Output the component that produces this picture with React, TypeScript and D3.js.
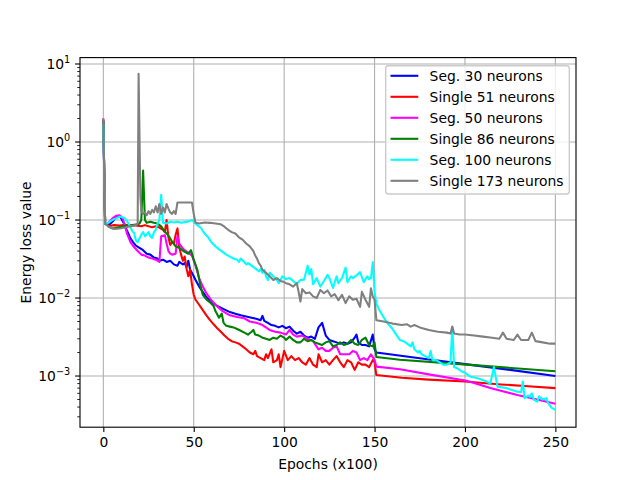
import React, { useEffect, useRef } from 'react';
import * as d3 from 'd3';

type Pt = [number, number];

// [epoch (x100), energy loss]
const seg30: Pt[] = [
    [0, 1.8], [1, 0.09], [3, 0.086], [5, 0.095], [7, 0.108], [9, 0.113], [10, 0.104], [12, 0.085], [13, 0.074],
    [15, 0.058], [17, 0.05], [18, 0.047], [20, 0.044], [22, 0.041], [24, 0.037], [26, 0.036], [28, 0.033],
    [30, 0.032], [31, 0.03], [33, 0.031], [35, 0.029], [37, 0.03], [39, 0.027], [41, 0.026], [42, 0.029],
    [44, 0.027], [45, 0.028], [46, 0.025], [47, 0.03], [48, 0.023], [49, 0.021], [50, 0.019], [51, 0.017],
    [53, 0.014], [55, 0.012], [57, 0.0102], [60, 0.0088], [63, 0.0079], [66, 0.0073], [70, 0.0066], [73, 0.0063],
    [76, 0.006], [79, 0.0058], [82, 0.0056], [85, 0.0054], [87, 0.0052], [88, 0.0059], [89, 0.0051], [91, 0.0048],
    [93, 0.0045], [95, 0.0044], [97, 0.0042], [99, 0.0044], [101, 0.0041], [103, 0.0043], [105, 0.0038],
    [107, 0.0035], [109, 0.0037], [111, 0.0033], [113, 0.0031], [115, 0.0032], [117, 0.003], [119, 0.0042],
    [121, 0.0048], [123, 0.0033], [125, 0.0029], [127, 0.0028], [129, 0.0027], [131, 0.0026], [133, 0.0027],
    [135, 0.0026], [137, 0.0027], [139, 0.0031], [140, 0.0034], [141, 0.0027], [143, 0.0025], [145, 0.0025],
    [147, 0.0024], [149, 0.0034], [150, 0.0022], [151, 0.002], [175, 0.00169], [200, 0.00142], [225, 0.0012],
    [250, 0.001],
];

const single51: Pt[] = [
    [0, 1.9], [1, 0.09], [3, 0.084], [6, 0.086], [9, 0.085], [12, 0.087], [15, 0.085], [18, 0.085], [21, 0.083],
    [23, 0.086], [25, 0.083], [27, 0.081], [29, 0.083], [31, 0.08], [33, 0.075], [34, 0.07], [35, 0.1], [36, 0.06],
    [37, 0.048], [38, 0.052], [39, 0.05], [40, 0.065], [41, 0.078], [42, 0.045], [43, 0.036], [44, 0.03],
    [45, 0.034], [46, 0.024], [47, 0.019], [48, 0.023], [49, 0.015], [50, 0.011], [51, 0.0095], [53, 0.0082],
    [55, 0.007], [57, 0.006], [59, 0.0052], [61, 0.0046], [63, 0.0041], [65, 0.0037], [67, 0.0033], [69, 0.003],
    [71, 0.0028], [73, 0.0027], [75, 0.0026], [77, 0.0024], [79, 0.0022], [81, 0.002], [83, 0.0019], [84, 0.0021],
    [85, 0.0018], [87, 0.0017], [89, 0.0016], [90, 0.0019], [91, 0.0017], [93, 0.0022], [94, 0.0015], [96, 0.0016],
    [97, 0.0019], [98, 0.0013], [100, 0.0021], [102, 0.0016], [104, 0.0018], [106, 0.0016], [108, 0.0017],
    [110, 0.0015], [112, 0.0014], [114, 0.0017], [116, 0.0014], [118, 0.0013], [119, 0.0019], [121, 0.0015],
    [123, 0.0016], [125, 0.0014], [127, 0.0016], [129, 0.0018], [131, 0.0015], [133, 0.0013], [135, 0.0016],
    [137, 0.0015], [139, 0.0012], [141, 0.0015], [143, 0.0014], [145, 0.0014], [147, 0.0013], [149, 0.0016],
    [150, 0.0015], [151, 0.00103], [165, 0.00095], [180, 0.0009], [200, 0.00085], [220, 0.00078], [235, 0.00074],
    [250, 0.0007],
];

const seg50: Pt[] = [
    [0, 2.0], [1, 0.09], [3, 0.092], [5, 0.105], [7, 0.113], [9, 0.115], [10, 0.11], [11, 0.1], [13, 0.068],
    [15, 0.052], [17, 0.045], [19, 0.04], [21, 0.036], [23, 0.035], [25, 0.033], [27, 0.032], [29, 0.031],
    [31, 0.029], [32, 0.062], [34, 0.064], [35, 0.05], [36, 0.04], [37, 0.037], [38, 0.036], [40, 0.037],
    [41, 0.062], [42, 0.05], [44, 0.043], [45, 0.041], [47, 0.038], [49, 0.035], [51, 0.026], [53, 0.018],
    [55, 0.014], [57, 0.0115], [60, 0.0092], [63, 0.0078], [66, 0.0068], [70, 0.006], [74, 0.0057], [78, 0.0055],
    [81, 0.005], [85, 0.0048], [88, 0.0045], [92, 0.0039], [95, 0.0037], [98, 0.0036], [101, 0.0034],
    [103, 0.0039], [105, 0.0034], [107, 0.0032], [110, 0.0033], [113, 0.003], [116, 0.0028], [119, 0.0022],
    [121, 0.0023], [123, 0.0021], [125, 0.0021], [127, 0.0023], [129, 0.0024], [131, 0.0019], [134, 0.0019],
    [136, 0.0019], [138, 0.0021], [140, 0.002], [142, 0.0016], [144, 0.0017], [146, 0.0016], [148, 0.0019],
    [150, 0.0016], [151, 0.00132], [164, 0.00122], [180, 0.00105], [201, 0.00087], [214, 0.0007], [229, 0.00057],
    [250, 0.00044],
];

const single86: Pt[] = [
    [0, 1.9], [1, 0.09], [3, 0.082], [5, 0.078], [8, 0.08], [11, 0.083], [14, 0.085], [17, 0.087], [19, 0.088],
    [20, 0.09], [21, 0.1], [22, 0.43], [23, 0.1], [24, 0.092], [26, 0.095], [28, 0.092], [30, 0.09], [32, 0.083],
    [34, 0.071], [36, 0.063], [38, 0.053], [40, 0.046], [42, 0.044], [45, 0.039], [47, 0.037], [48.5, 0.041],
    [50, 0.031], [52, 0.023], [53.5, 0.015], [55, 0.011], [57, 0.0096], [59, 0.0088], [61, 0.0079], [62, 0.0068],
    [64, 0.0056], [65.5, 0.0063], [66.5, 0.0048], [68, 0.0044], [70, 0.0043], [72, 0.0042], [74, 0.004],
    [76, 0.0038], [78, 0.0036], [80, 0.0034], [82, 0.0037], [83, 0.0039], [84, 0.0034], [86, 0.0033], [88, 0.0031],
    [90, 0.003], [92, 0.0029], [94, 0.0031], [96, 0.003], [98, 0.0033], [100, 0.0031], [101, 0.0029],
    [103, 0.0032], [105, 0.0029], [107, 0.0027], [109, 0.0027], [111, 0.003], [113, 0.0028], [115, 0.0029],
    [117, 0.0027], [119, 0.0026], [121, 0.0025], [123, 0.0027], [125, 0.0028], [127, 0.0024], [129, 0.0025],
    [131, 0.0027], [133, 0.0025], [135, 0.0026], [137, 0.0029], [139, 0.0026], [141, 0.0025], [143, 0.0029],
    [145, 0.0031], [147, 0.0025], [149, 0.0024], [150, 0.0027], [151, 0.00175], [164, 0.00162], [201, 0.0014],
    [250, 0.00115],
];

const seg100: Pt[] = [
    [0, 1.7], [1, 0.09], [3, 0.093], [5, 0.1], [7, 0.105], [9, 0.11], [10, 0.11], [12, 0.105], [14, 0.09],
    [15, 0.08], [16, 0.072], [17, 0.068], [18, 0.055], [19, 0.052], [20, 0.058], [21, 0.065], [22, 0.07],
    [23, 0.062], [24, 0.065], [25, 0.07], [26, 0.062], [27, 0.059], [28, 0.07], [29, 0.075], [30, 0.09],
    [31, 0.1], [32, 0.21], [33, 0.092], [35, 0.09], [37, 0.095], [39, 0.093], [41, 0.095], [43, 0.092],
    [45, 0.094], [47, 0.096], [49, 0.1], [50, 0.095], [52, 0.086], [54, 0.079], [56, 0.067], [58, 0.06],
    [60, 0.051], [62, 0.046], [64, 0.042], [66, 0.039], [68, 0.036], [70, 0.034], [72, 0.032], [74, 0.031],
    [75, 0.029], [76, 0.032], [78, 0.029], [79, 0.027], [80, 0.028], [82, 0.026], [84, 0.024], [86, 0.022],
    [87, 0.0235], [88, 0.021], [89, 0.023], [90, 0.019], [91, 0.017], [92, 0.021], [93, 0.02], [95, 0.018],
    [96, 0.017], [97, 0.0155], [98, 0.017], [99, 0.019], [101, 0.0175], [103, 0.018], [105, 0.0165],
    [107, 0.0152], [109, 0.017], [111, 0.0172], [113, 0.026], [114, 0.02], [115, 0.0235], [116, 0.015],
    [118, 0.018], [120, 0.014], [122, 0.0165], [124, 0.0198], [125, 0.018], [127, 0.0135], [129, 0.019],
    [130, 0.0155], [132, 0.018], [134, 0.0245], [135, 0.016], [137, 0.019], [138, 0.018], [140, 0.0195],
    [142, 0.0215], [144, 0.016], [146, 0.019], [147, 0.0175], [148, 0.018], [149, 0.029], [150, 0.012],
    [151, 0.0085], [152, 0.0075], [154, 0.0062], [156, 0.0052], [158, 0.0045], [160, 0.004], [162, 0.0034],
    [164, 0.0029], [166, 0.0028], [168, 0.0026], [170, 0.0024], [171, 0.0027], [172, 0.0022], [174, 0.002],
    [175, 0.0021], [176, 0.0019], [178, 0.0018], [180, 0.0017], [181, 0.0021], [182, 0.0016], [184, 0.0016],
    [186, 0.0015], [188, 0.0014], [190, 0.0014], [192, 0.0015], [193, 0.0042], [194, 0.0013], [196, 0.00125],
    [198, 0.00115], [200, 0.0011], [203, 0.00098], [206, 0.00095], [209, 0.0009], [212, 0.00085], [214, 0.0008],
    [216, 0.0013], [218, 0.00073], [220, 0.00072], [223, 0.0007], [226, 0.00066], [229, 0.00063], [231, 0.00062],
    [232, 0.00085], [233, 0.00052], [235, 0.00056], [236, 0.00054], [237, 0.0006], [238, 0.0005], [240, 0.00047],
    [241, 0.00055], [243, 0.0005], [245, 0.00052], [246, 0.00045], [248, 0.00039], [250, 0.00037],
];

const single173: Pt[] = [
    [0, 2.0], [1, 0.09], [3, 0.082], [6, 0.077], [9, 0.078], [12, 0.08], [15, 0.083], [17, 0.085], [18, 0.086],
    [19, 0.09], [19.5, 7.5], [20.5, 0.2], [21, 0.13], [22, 0.12], [23, 0.125], [24, 0.115], [25, 0.13], [26, 0.12],
    [27, 0.135], [28, 0.125], [29, 0.15], [30, 0.125], [31, 0.16], [32, 0.12], [33, 0.145], [34, 0.125],
    [35, 0.16], [36, 0.14], [37, 0.125], [38, 0.12], [39, 0.13], [40, 0.12], [41, 0.168], [49, 0.168],
    [50, 0.12], [51, 0.092], [53, 0.09], [56, 0.093], [59, 0.092], [62, 0.09], [65, 0.088], [67, 0.082],
    [69, 0.075], [71, 0.07], [73, 0.067], [75, 0.06], [77, 0.056], [79, 0.05], [81, 0.046], [83, 0.04],
    [84, 0.035], [85, 0.032], [86, 0.028], [87, 0.026], [88, 0.023], [89, 0.022], [90, 0.021], [91, 0.02],
    [92, 0.019], [94, 0.017], [96, 0.018], [98, 0.0165], [100, 0.016], [101, 0.0155], [103, 0.015], [105, 0.014],
    [107, 0.0155], [108, 0.012], [109, 0.009], [110, 0.013], [112, 0.0115], [114, 0.0118], [116, 0.0105],
    [118, 0.01], [120, 0.0127], [122, 0.0115], [124, 0.0125], [126, 0.0105], [128, 0.0112], [130, 0.0094],
    [132, 0.011], [134, 0.0086], [136, 0.0105], [138, 0.0095], [140, 0.0098], [142, 0.0077], [143, 0.012],
    [145, 0.0095], [147, 0.0077], [148, 0.0133], [149, 0.0105], [150, 0.0095], [151, 0.0052], [155, 0.005],
    [160, 0.0047], [165, 0.0045], [168, 0.0046], [170, 0.0043], [172, 0.0045], [175, 0.0042], [180, 0.0039],
    [185, 0.0037], [190, 0.0036], [192, 0.0035], [193, 0.0043], [194, 0.0035], [197, 0.0034], [200, 0.0034],
    [205, 0.0033], [210, 0.0032], [215, 0.0031], [219, 0.003], [221, 0.0036], [223, 0.003], [227, 0.0029],
    [229, 0.0034], [231, 0.0029], [235, 0.0029], [237, 0.0036], [239, 0.0028], [243, 0.0027], [247, 0.0026],
    [250, 0.0026],
];

const seriesData: Pt[][] = [seg30, single51, seg50, single86, seg100, single173];
const seriesNames = ['Seg. 30 neurons', 'Single 51 neurons', 'Seg. 50 neurons', 'Single 86 neurons', 'Seg. 100 neurons', 'Single 173 neurons'];
const seriesColors = ['#0000ff', '#ff0000', '#ff00ff', '#008000', '#00ffff', '#808080'];

const xTicks = [0, 50, 100, 150, 200, 250];
const yExponents = [-3, -2, -1, 0, 1];

const App: React.FC = () => {
    const svgRef = useRef<SVGSVGElement | null>(null);

    const width = 640;
    const height = 480;

    const left = 80;
    const right = 576;
    const top = 57.6;
    const bottom = 427.2;

    // matplotlib points -> px at 100 dpi
    const pt = 100 / 72;
    const font = 'DejaVu Sans, sans-serif';
    const fontSize = 10 * pt;

    useEffect(() => {
        const svg = d3.select(svgRef.current);
        svg.selectAll('*').remove();

        const x = d3.scaleLinear().domain([-12.9, 261.4]).range([left, right]);
        const y = d3.scaleLog().domain([Math.pow(10, -3.656), Math.pow(10, 1.082)]).range([bottom, top]);

        svg.append('rect').attr('width', width).attr('height', height).attr('fill', 'white');

        svg.append('defs').append('clipPath').attr('id', 'plot-clip')
            .append('rect').attr('x', left).attr('y', top).attr('width', right - left).attr('height', bottom - top);

        // grid
        const grid = svg.append('g').attr('stroke', '#b0b0b0').attr('stroke-width', 0.8 * pt);
        xTicks.forEach(t => {
            grid.append('line').attr('x1', x(t)).attr('x2', x(t)).attr('y1', top).attr('y2', bottom);
        });
        yExponents.forEach(e => {
            const v = y(Math.pow(10, e));
            grid.append('line').attr('x1', left).attr('x2', right).attr('y1', v).attr('y2', v);
        });

        // series
        const line = d3.line<Pt>().x(d => x(d[0])).y(d => y(d[1]));
        const lines = svg.append('g').attr('clip-path', 'url(#plot-clip)');
        seriesData.forEach((s, i) => {
            lines.append('path')
                .datum(s)
                .attr('fill', 'none')
                .attr('stroke', seriesColors[i])
                .attr('stroke-width', 1.5 * pt)
                .attr('stroke-linejoin', 'round')
                .attr('d', line);
        });

        // spines
        svg.append('rect')
            .attr('x', left).attr('y', top).attr('width', right - left).attr('height', bottom - top)
            .attr('fill', 'none').attr('stroke', 'black').attr('stroke-width', 0.8 * pt);

        // x axis
        svg.append('g')
            .attr('transform', `translate(0, ${bottom})`)
            .call(d3.axisBottom(x).tickValues(xTicks).tickSize(3.5 * pt).tickPadding(3.5 * pt).tickFormat(d3.format('d')))
            .call(g => g.select('.domain').remove())
            .call(g => g.selectAll('.tick line').attr('stroke-width', 0.8 * pt))
            .attr('font-family', font)
            .attr('font-size', fontSize);

        // y axis: major + minor ticks
        const yAxis = svg.append('g').attr('stroke', 'black');
        const [d0, d1] = y.domain();
        for (let e = -4; e <= 1; e++) {
            for (let m = 1; m < 10; m++) {
                const v = m * Math.pow(10, e);
                if (v < d0 || v > d1) continue;
                const py = y(v);
                yAxis.append('line')
                    .attr('x1', left).attr('x2', left - (m === 1 ? 3.5 * pt : 2 * pt))
                    .attr('y1', py).attr('y2', py)
                    .attr('stroke-width', m === 1 ? 0.8 * pt : 0.6 * pt);
            }
        }
        yExponents.forEach(e => {
            const t = svg.append('text')
                .attr('x', left - 7 * pt)
                .attr('y', y(Math.pow(10, e)) + 5)
                .attr('text-anchor', 'end')
                .attr('font-family', font)
                .attr('font-size', fontSize)
                .attr('fill', 'black');
            t.append('tspan').text('10');
            t.append('tspan')
                .attr('dy', -6)
                .attr('font-size', fontSize * 0.7)
                .text(e < 0 ? `\u2212${-e}` : `${e}`);
        });

        // axis labels
        svg.append('text')
            .attr('x', (left + right) / 2)
            .attr('y', 469)
            .attr('text-anchor', 'middle')
            .attr('font-family', font)
            .attr('font-size', fontSize)
            .text('Epochs (x100)');

        svg.append('text')
            .attr('transform', `translate(30.5, ${(top + bottom) / 2}) rotate(-90)`)
            .attr('text-anchor', 'middle')
            .attr('font-family', font)
            .attr('font-size', fontSize)
            .text('Energy loss value');

        // legend
        const legend = svg.append('g');
        legend.append('rect')
            .attr('x', 385.7).attr('y', 65.7).attr('width', 183.6).attr('height', 128.3)
            .attr('rx', 2.8)
            .attr('fill', 'white').attr('fill-opacity', 0.8)
            .attr('stroke', '#cccccc').attr('stroke-width', 1 * pt);
        seriesNames.forEach((name, i) => {
            const cy = 75.8 + i * 21;
            legend.append('line')
                .attr('x1', 390.5).attr('x2', 418.3)
                .attr('y1', cy).attr('y2', cy)
                .attr('stroke', seriesColors[i]).attr('stroke-width', 1.5 * pt);
            legend.append('text')
                .attr('x', 429.6).attr('y', cy + 5)
                .attr('font-family', font)
                .attr('font-size', fontSize)
                .text(name);
        });
    }, []);

    return (
        <svg
            ref={svgRef}
            viewBox={`0 0 ${width} ${height}`}
            width={width}
            height={height}
            style={{ position: 'absolute', left: 0, top: 0, display: 'block' }}
        ></svg>
    );
};

export default App;
